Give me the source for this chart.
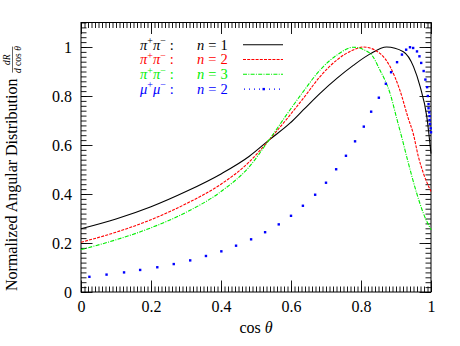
<!DOCTYPE html>
<html>
<head>
<meta charset="utf-8">
<script src="https://cdn.jsdelivr.net/npm/d3@7"></script>
<style>
  html, body { margin: 0; padding: 0; background: #fff; }
  svg { display: block; }
</style>
</head>
<body>
<svg id="chart" width="460" height="346" font-family="Liberation Serif"></svg>
<script>
// values
const piN1X = [0, 0.1, 0.2, 0.3, 0.4, 0.48, 0.537, 0.597, 0.635, 0.683, 0.731, 0.778, 0.826, 0.873, 0.921, 0.95, 0.969, 0.988, 1.0];
const piN1Y = [0.258, 0.298, 0.348, 0.41, 0.482, 0.553, 0.62, 0.689, 0.743, 0.811, 0.872, 0.925, 0.972, 1.0, 0.981, 0.92, 0.838, 0.716, 0.565];

const piN2X = [0, 0.1, 0.2, 0.3, 0.4, 0.48, 0.537, 0.597, 0.635, 0.683, 0.731, 0.778, 0.807, 0.854, 0.883, 0.911, 0.935, 0.949, 0.964, 0.978, 1.0];
const piN2Y = [0.203, 0.244, 0.295, 0.36, 0.44, 0.53, 0.62, 0.722, 0.79, 0.879, 0.947, 0.988, 1.0, 0.974, 0.92, 0.824, 0.709, 0.648, 0.552, 0.486, 0.41];

const piN3X = [0, 0.1, 0.2, 0.3, 0.4, 0.48, 0.537, 0.597, 0.635, 0.683, 0.731, 0.778, 0.826, 0.854, 0.883, 0.902, 0.916, 0.933, 0.959, 0.978, 1.0];
const piN3Y = [0.173, 0.213, 0.262, 0.325, 0.41, 0.51, 0.62, 0.743, 0.818, 0.906, 0.967, 0.999, 0.974, 0.906, 0.811, 0.709, 0.634, 0.539, 0.404, 0.322, 0.254];

const muN2X = [0.024, 0.073, 0.123, 0.169, 0.218, 0.265, 0.312, 0.357, 0.401, 0.443, 0.486, 0.526, 0.565, 0.600, 0.634, 0.669, 0.700, 0.729, 0.757, 0.783, 0.808, 0.829, 0.851, 0.871, 0.886, 0.903, 0.917, 0.929, 0.940, 0.949, 0.960, 0.967, 0.972, 0.979, 0.984, 0.989, 0.991, 0.993, 0.993, 0.995, 0.996, 0.996, 0.997, 0.999, 1.0];
const muN2Y = [0.062, 0.071, 0.080, 0.090, 0.101, 0.114, 0.129, 0.147, 0.166, 0.189, 0.215, 0.244, 0.276, 0.311, 0.352, 0.397, 0.446, 0.501, 0.556, 0.615, 0.675, 0.736, 0.793, 0.850, 0.897, 0.938, 0.969, 0.989, 0.999, 0.996, 0.982, 0.962, 0.935, 0.902, 0.867, 0.836, 0.800, 0.767, 0.750, 0.733, 0.718, 0.702, 0.686, 0.668, 0.652];

const xTicks = [0, 0.2, 0.4, 0.6, 0.8, 1];
const xTickLabels = ["0", "0.2", "0.4", "0.6", "0.8", "1"];
const yTicks = [0, 0.2, 0.4, 0.6, 0.8, 1];
const yTickLabels = ["0", "0.2", "0.4", "0.6", "0.8", "1"];

const legendParticle = ["π", "π", "π", "μ"];
const legendN = ["1", "2", "3", "2"];

const d3g = globalThis.d3;
const svg = d3g.select("#chart");

const m = { left: 81, right: 431, top: 22.5, bottom: 292 };
const x = d3g.scaleLinear().domain([0, 1]).range([m.left, m.right]);
const y = d3g.scaleLinear().domain([0, 1.1]).range([m.bottom, m.top]);

const zip = (xs, ys) => xs.map((v, i) => [v, ys[i]]);
const series = [
  { pts: zip(piN1X, piN1Y), color: "#000000", dash: null },
  { pts: zip(piN2X, piN2Y), color: "#ff0000", dash: "3,1.2" },
  { pts: zip(piN3X, piN3Y), color: "#00ee00", dash: "4,1.3,1,1.3" }
];

// minor + major ticks on all four sides, pointing inward
function addAxis(axisFn, scale, values, size, transform, labels) {
  const ax = axisFn(scale).tickValues(values).tickSize(-size).tickSizeOuter(0);
  if (labels) ax.tickFormat((d, i) => labels[i]).tickPadding(9);
  else ax.tickFormat("");
  const g = svg.append("g").attr("transform", transform).call(ax);
  g.attr("font-family", "Liberation Serif").attr("font-size", 16);
  g.select(".domain").remove();
  g.selectAll(".tick line").attr("stroke", "#000").attr("stroke-width", 0.9);
  g.selectAll("text").attr("fill", "#000");
  return g;
}

const xMinor = d3g.range(0, 101).map(i => i / 100);
const yMinor = d3g.range(0, 56).map(i => i / 50);

addAxis(d3g.axisBottom, x, xMinor, 5.5, `translate(0,${m.bottom})`);
addAxis(d3g.axisBottom, x, xTicks, 11.5, `translate(0,${m.bottom})`, xTickLabels);
addAxis(d3g.axisTop, x, xMinor, 5.5, `translate(0,${m.top})`);
addAxis(d3g.axisTop, x, xTicks, 11.5, `translate(0,${m.top})`);
addAxis(d3g.axisLeft, y, yMinor, 5.5, `translate(${m.left},0)`);
addAxis(d3g.axisLeft, y, yTicks, 11.5, `translate(${m.left},0)`, yTickLabels);
addAxis(d3g.axisRight, y, yMinor, 5.5, `translate(${m.right},0)`);
addAxis(d3g.axisRight, y, yTicks, 11.5, `translate(${m.right},0)`);

svg.append("rect")
  .attr("x", m.left).attr("y", m.top)
  .attr("width", m.right - m.left).attr("height", m.bottom - m.top)
  .attr("fill", "none").attr("stroke", "#000").attr("stroke-width", 1);

// curves
const line = d3g.line().x(d => x(d[0])).y(d => y(d[1])).curve(d3g.curveMonotoneX);
const plot = svg.append("g");
series.forEach(s => {
  plot.append("path")
    .attr("d", line(s.pts))
    .attr("fill", "none")
    .attr("stroke", s.color)
    .attr("stroke-width", 1.1)
    .attr("stroke-dasharray", s.dash);
});

plot.selectAll("rect.mu")
  .data(zip(muN2X, muN2Y))
  .join("rect")
  .attr("class", "mu")
  .attr("x", d => x(d[0]) - 1.2)
  .attr("y", d => y(d[1]) - 1.2)
  .attr("width", 2.4).attr("height", 2.4)
  .attr("fill", "#0000ff");

// legend
const legendColors = ["#000000", "#ff0000", "#00ee00", "#0000ff"];
const legend = svg.append("g").attr("font-size", 14.5);
legendN.forEach((n, i) => {
  const by = 49.5 + i * 14.8;
  const row = legend.append("g").attr("fill", legendColors[i]);
  const t = row.append("text").attr("x", 140).attr("y", by);
  const p = legendParticle[i];
  t.append("tspan").attr("font-style", "italic").text(p);
  t.append("tspan").attr("font-size", 10).attr("dy", -5.5).text("+");
  t.append("tspan").attr("font-style", "italic").attr("dy", 5.5).text(p);
  t.append("tspan").attr("font-size", 10).attr("dy", -5.5).text("−");
  t.append("tspan").attr("dy", 5.5).attr("dx", 4).text(":");
  const t2 = row.append("text").attr("x", 197).attr("y", by);
  t2.append("tspan").attr("font-style", "italic").text("n");
  t2.append("tspan").attr("dx", 4).text("=");
  t2.append("tspan").attr("dx", 4).text(n);

  const ly = by - 4.8;
  if (i < 3) {
    row.append("line")
      .attr("x1", 243).attr("x2", 283).attr("y1", ly).attr("y2", ly)
      .attr("stroke", legendColors[i]).attr("stroke-width", 1.1)
      .attr("stroke-dasharray", series[i].dash);
  } else {
    row.append("line")
      .attr("x1", 244).attr("x2", 283).attr("y1", ly).attr("y2", ly)
      .attr("stroke", "#0000ff").attr("stroke-width", 1.2)
      .attr("stroke-dasharray", "1,4");
    row.append("rect")
      .attr("x", 262.5).attr("y", ly - 1.2).attr("width", 2.4).attr("height", 2.4);
  }
});

// axis titles
const xt = svg.append("text")
  .attr("x", (m.left + m.right) / 2).attr("y", 333)
  .attr("text-anchor", "middle").attr("font-size", 16);
xt.append("tspan").text("cos ");
xt.append("tspan").attr("font-style", "italic").text("θ");

const yt = svg.append("g").attr("transform", `translate(17,${m.bottom - 1}) rotate(-90)`);
const ytMain = yt.append("text").attr("x", 0).attr("y", 0).attr("font-size", 16)
  .text("Normalized Angular Distribution");
const w = ytMain.node().getComputedTextLength();
const fx = w + 6;
const fw = 26;
yt.append("line")
  .attr("x1", fx).attr("x2", fx + fw).attr("y1", -4.5).attr("y2", -4.5)
  .attr("stroke", "#000").attr("stroke-width", 0.6);
const num = yt.append("text").attr("x", fx + fw / 2).attr("y", -7).attr("text-anchor", "middle").attr("font-size", 9.5);
num.append("tspan").attr("font-style", "italic").text("dR");
const den = yt.append("text").attr("x", fx + fw / 2).attr("y", 3.8).attr("text-anchor", "middle").attr("font-size", 9.5);
den.append("tspan").attr("font-style", "italic").text("d");
den.append("tspan").text(" cos ");
den.append("tspan").attr("font-style", "italic").text("θ");
</script>
</body>
</html>
